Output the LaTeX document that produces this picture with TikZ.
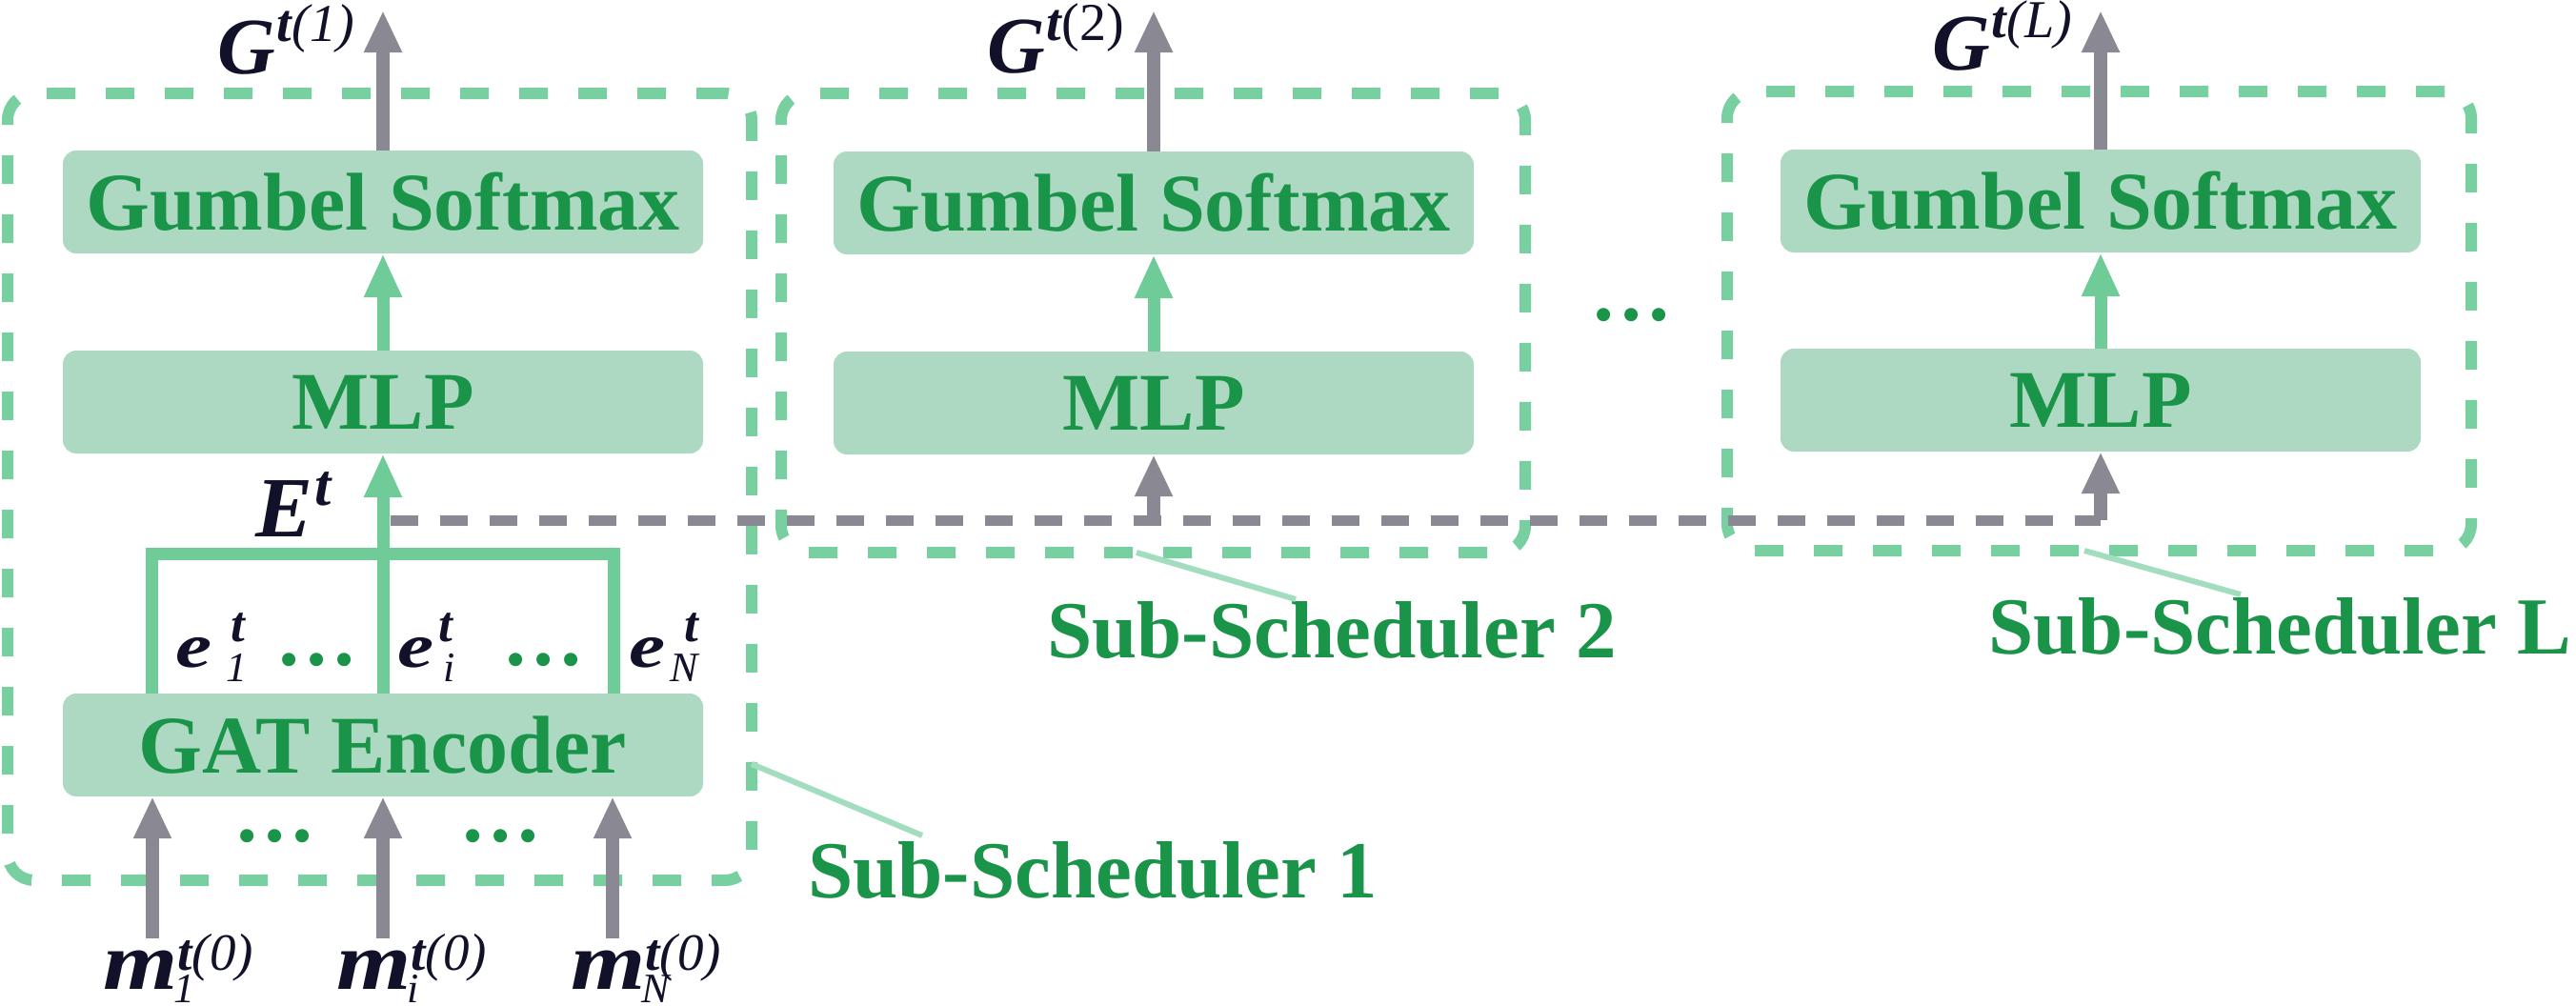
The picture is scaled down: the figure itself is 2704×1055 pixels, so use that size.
\documentclass[tikz,border=0pt]{standalone}
\usepackage{fontspec}
\usepackage{graphicx}
\setmainfont{Liberation Serif}
\usetikzlibrary{arrows.meta}
\definecolor{boxfill}{HTML}{ADD9C2}
\definecolor{txtgreen}{HTML}{1A9448}
\definecolor{dashgreen}{HTML}{78CFA0}
\definecolor{arrgreen}{HTML}{6FCB98}
\definecolor{arrgray}{HTML}{898893}
\definecolor{ink}{HTML}{11122A}
\definecolor{calloutc}{HTML}{A3DDBF}
\newcommand\fsz[1]{\fontsize{#1}{#1}\selectfont}
\newcommand\bib{\bfseries\itshape}
% e^t_x label: #1 gap after e, #2 shift of t, #3 shift of sub, #4 subscript
\newcommand\elbl[4]{\scalebox{1.3}[1]{\fsz{66}\bib e}\hspace{#1}\rlap{\hspace{#2}\raisebox{27pt}{\fsz{53}\bib t}}\hspace{#3}\raisebox{-15pt}{\fsz{44}\mdseries\itshape #4}}
\newcommand\mlbl[1]{\scalebox{1.17}[1]{\fsz{86}\bib m}\rlap{\raisebox{20pt}{\fsz{55}\bib t\mdseries(0)}}\hspace{-4pt}\raisebox{-14pt}{\fsz{44}\mdseries\itshape #1}}
\begin{document}
\begin{tikzpicture}[x=1pt,y=-1pt,
 blk/.style={rectangle, rounded corners=14pt, fill=boxfill, minimum width=672pt, minimum height=108pt, inner sep=0pt, text=txtgreen, font=\fsz{86}\bfseries},
 grouping/.style={draw=dashgreen, line width=12pt, dash pattern=on 30pt off 32pt, rounded corners=28pt, inner sep=0pt},
 garrow/.style={draw=arrgreen, line width=13pt, -{Triangle[length=46pt,width=37pt]}},
 gyarrow/.style={draw=arrgray, line width=14pt, -{Triangle[length=44pt,width=37pt]}},
 lbl/.style={inner sep=0pt, anchor=base west, text=ink},
 dotsn/.style={inner sep=0pt, anchor=base, text=txtgreen, font=\fsz{86}\bfseries},
 subs/.style={inner sep=0pt, anchor=base west, text=txtgreen, font=\fsz{85}\bfseries},
 callout/.style={draw=calloutc, line width=6pt},
 bus/.style={draw=arrgreen, line width=13pt},
 gbus/.style={draw=arrgray, line width=11pt, dash pattern=on 29pt off 23pt}
]
\useasboundingbox (0,0) rectangle (2704,1055);
\fill[white] (0,0) rectangle (2704,1055);

% sub-scheduler groups
\node[grouping, minimum width=781pt, minimum height=826pt] (ss1) at (398.5,511) {};
\node[grouping, minimum width=781pt, minimum height=482pt] (ss2) at (1210.5,339) {};
\node[grouping, minimum width=781pt, minimum height=482pt] (ssL) at (2203.5,337) {};

% blocks
\node[blk] (gs1) at (402,212) {Gumbel Softmax};
\node[blk] (mlp1) at (402,422) {MLP};
\node[blk] (gat) at (402,782) {GAT Encoder};
\node[blk] (gs2) at (1211,213) {Gumbel Softmax};
\node[blk] (mlp2) at (1211,423) {MLP};
\node[blk] (gsL) at (2205,211) {Gumbel Softmax};
\node[blk] (mlpL) at (2205,420) {MLP};

% outputs
\coordinate (g1top) at (402,11);
\coordinate (g2top) at (1211,11);
\coordinate (gLtop) at (2205,11);
\draw[gyarrow] (gs1.north) -- (g1top);
\draw[gyarrow] (gs2.north) -- (g2top);
\draw[gyarrow] (gsL.north) -- (gLtop);

\draw[garrow] (mlp1.north) -- (gs1.south);
\draw[garrow] (mlp2.north) -- (gs2.south);
\draw[garrow] (mlpL.north) -- (gsL.south);

% aggregation bracket
\coordinate (busL) at (159,581);
\coordinate (busM) at (402,581);
\coordinate (busR) at (644,581);
\draw[bus] (gat.north -| busL) -- (busL) -- (busR) -- (gat.north -| busR);
\draw[bus] (gat.north) -- (busM);
\draw[garrow] (busM) -- (mlp1.south);

% shared embedding line
\coordinate (tapA) at (410,546);
\coordinate (tap2) at (1211,546);
\coordinate (tapL) at (2205,546);
\draw[gbus] (tapA) -- (tapL);
\draw[gyarrow] (tap2) -- (mlp2.south);
\draw[gyarrow] (tapL) -- (mlpL.south);

% inputs
\coordinate (in1) at (160,985);
\coordinate (ini) at (402,985);
\coordinate (inN) at (643,985);
\draw[gyarrow] (in1) -- (in1 |- gat.south);
\draw[gyarrow] (ini) -- (ini |- gat.south);
\draw[gyarrow] (inN) -- (inN |- gat.south);

% dots
\node[dotsn] (de1) at (332,698) {…};
\node[dotsn] (de2) at (570,698) {…};
\node[dotsn] (dm1) at (288,883) {…};
\node[dotsn] (dm2) at (525,883) {…};
\node[dotsn] (dmid) at (1712,336) {…};

% labels
\node[lbl] (G1) at (228,77) {{\fsz{84}\bib G}\hspace{2pt}\raisebox{34pt}{\fsz{56}\bib t\mdseries(1)}};
\node[lbl] (G2) at (1036,76) {{\fsz{84}\bib G}\hspace{2pt}\raisebox{34pt}{\fsz{56}\bib t\mdseries\upshape(2)}};
\node[lbl] (GL) at (2028,73) {{\fsz{84}\bib G}\hspace{2pt}\raisebox{34pt}{\fsz{56}\bib t\mdseries(L)}};
\node[lbl] (Et) at (268,563) {{\fsz{90}\bib E}\hspace{2pt}\raisebox{33pt}{\fsz{62}\bib t}};

\node[lbl] (e1) at (184,700) {\elbl{15pt}{5pt}{0pt}{1}};
\node[lbl] (ei) at (417,700) {\elbl{5pt}{0pt}{5pt}{i}};
\node[lbl] (eN) at (660,700) {\elbl{5pt}{15pt}{0pt}{N}};

\node[lbl] (m1) at (108,1038) {\mlbl{1}};
\node[lbl] (mi) at (353,1038) {\mlbl{i}};
\node[lbl] (mN) at (599,1038) {\mlbl{N}};

% sub-scheduler captions
\node[subs] (s1) at (848,942) {Sub-Scheduler 1};
\node[subs] (s2) at (1099,690) {Sub-Scheduler 2};
\node[subs] (sL) at (2087,686) {Sub-Scheduler L};
\coordinate (c1a) at (789,802);
\coordinate (c1b) at (968,877);
\coordinate (c2a) at (1193,580);
\coordinate (c2b) at (1360,629);
\coordinate (cLa) at (2188,578);
\coordinate (cLb) at (2352,624);
\draw[callout] (c1a) -- (c1b);
\draw[callout] (c2a) -- (c2b);
\draw[callout] (cLa) -- (cLb);
\end{tikzpicture}
\end{document}
